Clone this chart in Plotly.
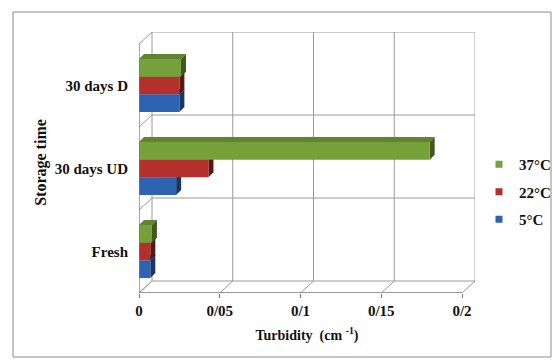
import plotly.graph_objects as go

categories = ["Fresh", "30 days UD", "30 days D"]
series_names = ["5°C", "22°C", "37°C"]
values_5C = [0.007, 0.023, 0.025]
values_22C = [0.007, 0.043, 0.025]
values_37C = [0.008, 0.180, 0.026]
x_tick_vals = [0, 0.05, 0.1, 0.15, 0.2]
x_tick_text = ["0", "0/05", "0/1", "0/15", "0/2"]

series_values = [values_5C, values_22C, values_37C]
front_colors = ["#2E62B2", "#B3302C", "#76A13A"]
top_colors = ["#24508F", "#8E2421", "#5F8530"]
side_colors = ["#183768", "#5E1614", "#405A1E"]

FONT = "Liberation Serif"
W, H = 552, 360
L, R, T, B = 139, 77, 32, 67
xmax = 0.2
ncat = len(categories)
px_per_x = 323 / xmax
px_per_cat = 83
dxw = 13 / px_per_x      # wall depth in data units
dyw = 12 / px_per_cat
dxb = 5 / px_per_x       # bar depth
dyb = 5 / px_per_cat
bargap = 0.36
gw = 1 - bargap
bw = gw / len(series_values)

fig = go.Figure()
ys = list(range(ncat))
for i, (name, vals) in enumerate(zip(series_names, series_values)):
    fig.add_trace(go.Bar(
        y=ys, x=vals, orientation="h", name=name,
        marker=dict(color=front_colors[i], line=dict(width=0)),
        showlegend=False,
    ))
# legend entries, top to bottom: 37, 22, 5
for i in reversed(range(len(series_names))):
    fig.add_trace(go.Scatter(
        x=[None], y=[None], mode="markers", name=series_names[i],
        legendgroup=series_names[i],
        marker=dict(symbol="square", size=7, color=front_colors[i]),
    ))

shapes = []
grid = dict(color="#9a9a9a", width=1)
bounds = [b - 0.5 for b in range(ncat + 1)]
for t in x_tick_vals:
    shapes.append(dict(type="line", xref="x", yref="y", layer="below",
                       x0=t + dxw, x1=t + dxw, y0=-0.5 + dyw, y1=ncat - 0.5 + dyw, line=grid))
    shapes.append(dict(type="line", xref="x", yref="y", layer="below",
                       x0=t, x1=t + dxw, y0=-0.5, y1=-0.5 + dyw, line=grid))
for b in bounds:
    shapes.append(dict(type="line", xref="x", yref="y", layer="below",
                       x0=dxw, x1=xmax + dxw, y0=b + dyw, y1=b + dyw, line=grid))
    shapes.append(dict(type="line", xref="x", yref="y", layer="below",
                       x0=0, x1=dxw, y0=b, y1=b + dyw, line=grid))
    shapes.append(dict(type="line", xref="x", yref="y", xsizemode="pixel", xanchor=0,
                       x0=-4, x1=0, y0=b, y1=b, line=dict(color="#777", width=1)))
for i, vals in enumerate(series_values):
    for c, v in enumerate(vals):
        ytop = c - gw / 2 + bw * (i + 1)
        ybot = ytop - bw
        shapes.append(dict(type="path", xref="x", yref="y", layer="below",
                           path=f"M 0,{ytop} L {v},{ytop} L {v+dxb},{ytop+dyb} L {dxb},{ytop+dyb} Z",
                           fillcolor=top_colors[i], line=dict(width=0)))
        shapes.append(dict(type="path", xref="x", yref="y", layer="below",
                           path=f"M {v},{ybot} L {v+dxb},{ybot+dyb} L {v+dxb},{ytop+dyb} L {v},{ytop} Z",
                           fillcolor=side_colors[i], line=dict(width=0)))
axl = dict(color="#777", width=1.3)
shapes.append(dict(type="line", xref="x", yref="y", x0=0, x1=xmax, y0=-0.5, y1=-0.5, line=axl))
shapes.append(dict(type="line", xref="x", yref="y", x0=0, x1=0, y0=-0.5, y1=ncat - 0.5, line=axl))
pw, ph = W - L - R, H - T - B
shapes.append(dict(type="rect", xref="paper", yref="paper",
                   x0=(13 - L) / pw, x1=(551 - L) / pw,
                   y0=(H - B - 357) / ph, y1=(H - B - 12) / ph,
                   line=dict(color="#8a8a8a", width=1)))

fig.update_layout(
    width=W, height=H,
    margin=dict(l=L, r=R, t=T, b=B, autoexpand=False),
    paper_bgcolor="white", plot_bgcolor="white",
    barmode="group", bargap=bargap, bargroupgap=0,
    shapes=shapes,
    showlegend=True,
    legend=dict(x=(479 - L) / pw, y=(H - B - 148) / ph, xanchor="left", yanchor="top",
                traceorder="grouped", tracegroupgap=5,
                font=dict(family=FONT, size=15, color="#111", weight="bold"),
                bgcolor="rgba(0,0,0,0)", itemwidth=30),
    xaxis=dict(range=[0, xmax + dxw], tickvals=x_tick_vals, ticktext=x_tick_text,
               showgrid=False, zeroline=False, showline=False,
               ticks="outside", ticklen=4, tickcolor="#777",
               tickfont=dict(family=FONT, size=15, color="#111", weight="bold"),
               title=dict(text="Turbidity  (cm <sup>-1</sup>)", standoff=12,
                          font=dict(family=FONT, size=14, color="#111", weight="bold"))),
    yaxis=dict(range=[-0.5, ncat - 0.5 + dyw], tickvals=ys, ticktext=categories,
               showgrid=False, zeroline=False, showline=False, ticks="",
               ticklabelstandoff=10,
               tickfont=dict(family=FONT, size=15, color="#111", weight="bold"),
               title=dict(text="Storage time", standoff=4,
                          font=dict(family=FONT, size=16, color="#111", weight="bold"))),
)

fig.write_html("out.html")
